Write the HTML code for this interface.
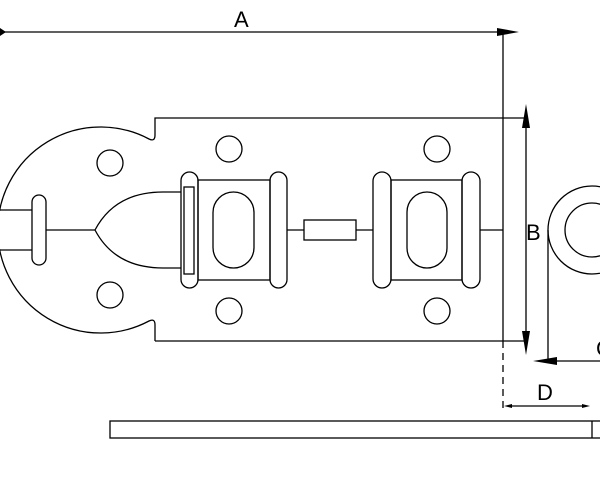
<!DOCTYPE html>
<html><head><style>body{margin:0;background:#fff}svg{display:block}</style></head><body>
<svg width="600" height="491" viewBox="0 0 600 491" xmlns="http://www.w3.org/2000/svg" font-family="Liberation Sans, DejaVu Sans, sans-serif">
<g fill="none" stroke="#000" stroke-width="1.3">
<line x1="4" y1="32" x2="506" y2="32"/>
<line x1="503" y1="32" x2="503" y2="341"/>
<line x1="503" y1="341" x2="503" y2="412" stroke-dasharray="7,5"/>
<path d="M155,341 L155,325 Q155,318 149,321 A103,103 0 1 1 149,139 Q155,142 155,135 L155,118 L526,118"/>
<path d="M155,341 L526,341"/>
<circle cx="110" cy="163" r="13"/><circle cx="110" cy="295" r="13"/>
<circle cx="229" cy="149" r="13"/><circle cx="229" cy="311" r="13"/>
<circle cx="437" cy="149" r="13"/><circle cx="437" cy="311" r="13"/>
<rect x="0" y="211" width="31" height="38" fill="#fff" stroke="none"/>
<line x1="0" y1="210" x2="32" y2="210"/><line x1="0" y1="250" x2="32" y2="250"/>
<rect x="32" y="195" width="14" height="70" rx="7"/>
<line x1="46" y1="230" x2="95" y2="230"/>
<path d="M182,192 L163,192 Q115,192 95,230 Q115,268 163,268 L182,268"/>
<rect x="181" y="172" width="17" height="116" rx="8.5" fill="#fff"/>
<rect x="184" y="187" width="10" height="87" fill="#fff"/>
<rect x="198" y="180" width="72" height="100"/>
<rect x="213" y="192" width="41" height="76" rx="20.5"/>
<rect x="270" y="172" width="17" height="116" rx="8.5"/>
<line x1="287" y1="230" x2="304" y2="230"/>
<rect x="304" y="220" width="52" height="20"/>
<line x1="356" y1="230" x2="373" y2="230"/>
<rect x="373" y="172" width="18" height="116" rx="9"/>
<rect x="391" y="180" width="71" height="100"/>
<rect x="407" y="192" width="40" height="76" rx="20"/>
<rect x="462" y="172" width="18" height="116" rx="9"/>
<line x1="480" y1="230" x2="503" y2="230"/>
<line x1="526" y1="112" x2="526" y2="348"/>
<circle cx="592" cy="230" r="44"/>
<circle cx="592" cy="230" r="27"/>
<line x1="548" y1="230" x2="548" y2="361"/>
<line x1="545" y1="361" x2="600" y2="361"/>
<line x1="508" y1="406" x2="586" y2="406"/>
<rect x="110" y="421" width="495" height="17"/>
<line x1="592" y1="421" x2="592" y2="438"/>
</g>
<g fill="#000">
<polygon points="0,28 6,32 0,36"/>
<polygon points="519,32 497,28 497,36"/>
<polygon points="526,104 522,128 530,128"/>
<polygon points="526,355 522,331 530,331"/>
<polygon points="533,361 557,357 557,365"/>
<polygon points="504,406 512,404 512,408"/>
<polygon points="590,406 582,404 582,408"/>
</g>
<g font-size="22" fill="#000">
<text x="234" y="27">A</text>
<text x="526" y="240">B</text>
<text x="537" y="400">D</text>
<text x="596" y="356">C</text>
</g>
</svg>
</body></html>
